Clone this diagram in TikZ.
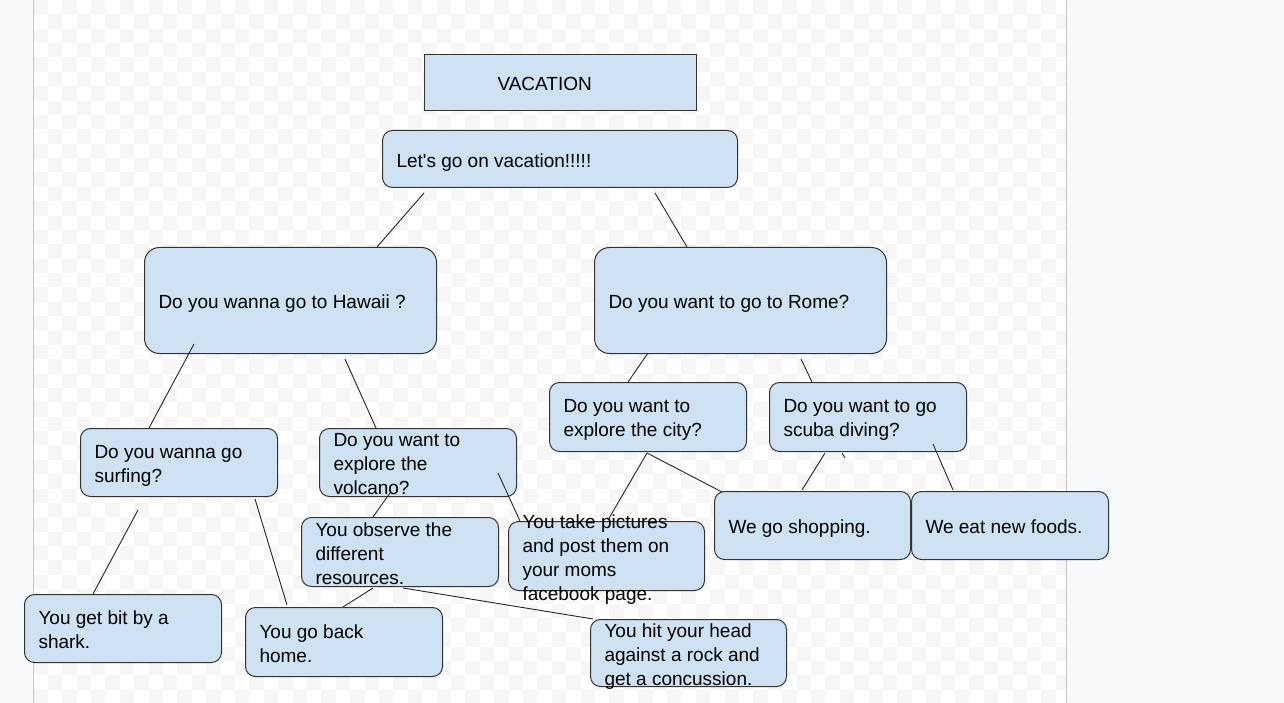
\documentclass[tikz,border=0pt]{standalone}
\usepackage{fontspec}
\setmainfont{Liberation Sans}[Ligatures=TeXOff]
\usetikzlibrary{calc, positioning}
\usepackage{xcolor}
\definecolor{boxblue}{HTML}{CFE2F3}
\definecolor{boxline}{HTML}{333333}
\definecolor{pagegray}{HTML}{F8F9FA}
\definecolor{checkgray}{HTML}{F6F6F6}
\definecolor{edgegray}{HTML}{C6C6C6}
\newcommand{\boxtext}[2]{\parbox[c][0pt][c]{#1}{\raggedright #2\vphantom{g}}}

\begin{document}
\begin{tikzpicture}[x=1pt, y=-1pt,
    box/.style={draw=boxline, fill=boxblue, line width=1pt, rounded corners=10pt,
                anchor=north west, inner sep=0pt, minimum width=197pt, minimum height=68pt,
                text height=15pt, text depth=0pt,
                font=\fontsize{19}{24}\selectfont},
    bigbox/.style={box, rounded corners=15pt, minimum width=292pt, minimum height=106pt},
    titlebox/.style={box, sharp corners, minimum width=272pt, minimum height=56pt},
    link/.style={draw=black!85, line width=0.9pt}]
    \useasboundingbox (0,0) rectangle (1284,703);

    % page and checkered canvas
    \fill[pagegray] (0,0) rectangle (1284,703);
    \fill[white] (33,0) rectangle (1066,703);
    \begin{scope}
        \clip (33,0) rectangle (1066,703);
        \foreach \i in {0,2,...,70}
            \foreach \j in {0,2,...,48} {
                \fill[checkgray] ({33.3+\i*14.4},{\j*14.37}) rectangle ++(14.4,14.37);
                \fill[checkgray] ({33.3+(\i+1)*14.4},{(\j+1)*14.37}) rectangle ++(14.4,14.37);
            }
    \end{scope}
    \draw[edgegray] (33,0) -- (33,703);
    \draw[edgegray] (1066,0) -- (1066,703);

    % boxes
    \node[titlebox] (title) at (424,54) {\boxtext{244pt}{\hspace*{59pt}VACATION}};
    \node[box, minimum width=355pt, minimum height=57pt] (go) at (382,130) {\boxtext{327pt}{Let's go on vacation!!!!!}};
    \node[bigbox] (hawaii) at (144,247) {\boxtext{264pt}{Do you wanna go to Hawaii ?}};
    \node[bigbox] (rome) at (594,247) {\boxtext{264pt}{Do you want to go to Rome?}};
    \node[box] (surf) at (80,428) {\boxtext{169pt}{Do you wanna go\\surfing?}};
    \node[box] (volcano) at (319,428) {\boxtext{169pt}{Do you want to\\explore the\\volcano?}};
    \node[box, minimum height=69pt] (city) at (549,382) {\boxtext{169pt}{Do you want to\\explore the city?}};
    \node[box, minimum height=69pt] (scuba) at (769,382) {\boxtext{169pt}{Do you want to go\\scuba diving?}};
    \node[box] (shark) at (24,594) {\boxtext{169pt}{You get bit by a\\shark.}};
    \node[box, minimum height=69pt] (home) at (245,607) {\boxtext{169pt}{You go back\\home.}};
    \node[box, minimum height=69pt] (observe) at (301,517) {\boxtext{169pt}{You observe the\\different\\resources.}};
    \node[box, minimum width=196pt, minimum height=69pt] (pictures) at (508,521) {\boxtext{168pt}{You take pictures\\and post them on\\your moms\\facebook page.}};
    \node[box, minimum width=196pt] (shopping) at (714,491) {\boxtext{168pt}{We go shopping.}};
    \node[box] (foods) at (911,491) {\boxtext{169pt}{We eat new foods.}};
    \node[box, minimum width=196pt, minimum height=67pt] (concussion) at (590,619) {\boxtext{168pt}{You hit your head\\against a rock and\\get a concussion.}};

    % connectors
    \draw[link] ($(go.south west)+(42,5)$) -- ($(hawaii.north west)+(233,0)$);
    \draw[link] ($(go.south west)+(273,5)$) -- ($(rome.north west)+(93,0)$);
    \draw[link] ($(hawaii.south west)+(50,-10)$) -- ($(surf.north west)+(69,0)$);
    \draw[link] ($(hawaii.south west)+(201,5)$) -- ($(volcano.north west)+(57,0)$);
    \draw[link] ($(rome.south west)+(54,-1)$) -- ($(city.north west)+(79,0)$);
    \draw[link] ($(rome.south west)+(207,5)$) -- ($(scuba.north west)+(43,0)$);
    \draw[link] ($(surf.south west)+(58,13)$) -- ($(shark.north west)+(69,0)$);
    \draw[link] ($(surf.south west)+(175,2)$) -- ($(home.north west)+(42,-2)$);
    \draw[link] ($(volcano.south west)+(71,-4)$) -- ($(observe.north west)+(72,0)$);
    \draw[link] ($(volcano.south west)+(179,-24)$) -- ($(pictures.north west)+(12,0)$);
    \draw[link] ($(observe.south west)+(72,1)$) -- ($(home.north west)+(98,0)$);
    \draw[link] ($(observe.south west)+(102,1)$) -- ($(concussion.north west)+(3,0)$);
    \draw[link] ($(city.south west)+(98,1)$) -- ($(pictures.north west)+(100,-1)$);
    \draw[link] ($(city.south west)+(98,1)$) -- ($(shopping.north west)+(8,1)$);
    \draw[link] ($(scuba.south west)+(56,1)$) -- ($(shopping.north west)+(88,-1)$);
    \coordinate (stub) at ($(scuba.south west)+(76,6)$);
    \draw[link] ($(scuba.south west)+(73,1)$) -- (stub);
    \draw[link] ($(scuba.south west)+(164,-8)$) -- ($(foods.north west)+(42,-1)$);
\end{tikzpicture}
\end{document}
